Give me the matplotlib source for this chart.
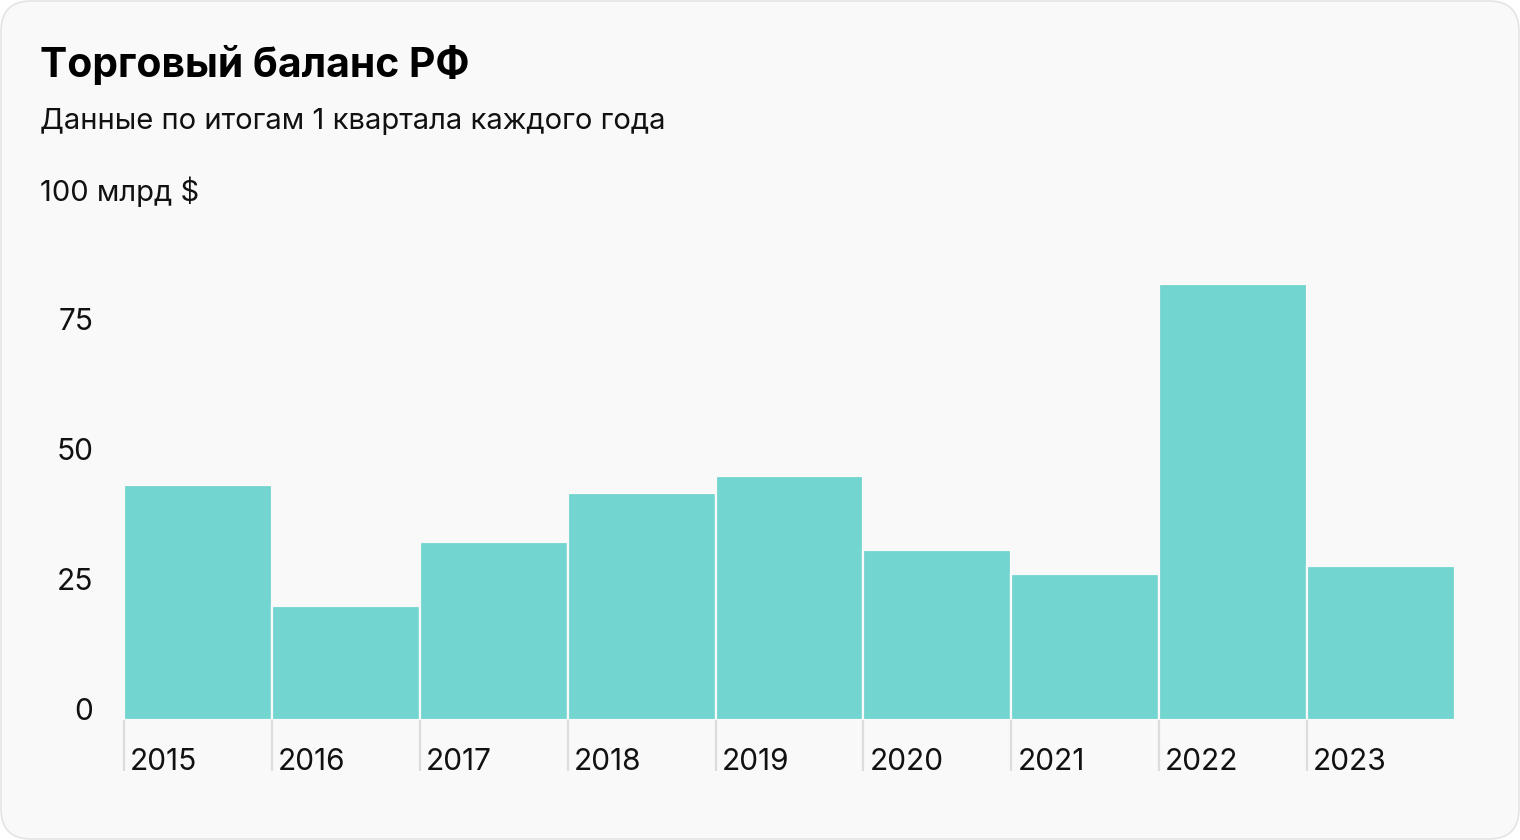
import matplotlib
matplotlib.use("Agg")
import matplotlib.pyplot as plt
from matplotlib.patches import FancyBboxPatch

years = ["2015", "2016", "2017", "2018", "2019", "2020", "2021", "2022", "2023"]
values = [45.1, 22.0, 34.3, 43.6, 47.0, 32.7, 28.1, 83.9, 29.7]
yticks = [0, 25, 50, 75]
title = "Торговый баланс РФ"
subtitle = "Данные по итогам 1 квартала каждого года"
unit_label = "100 млрд $"

plt.rcParams['font.family'] = ['Inter', 'DejaVu Sans']

W, H = 1520, 840
DPI = 100
fig = plt.figure(figsize=(W / DPI, H / DPI), dpi=DPI)
fig.patch.set_facecolor("white")

card = FancyBboxPatch((1 / DPI, 1 / DPI), (W - 2) / DPI, (H - 2) / DPI,
                      boxstyle="round,pad=0,rounding_size=0.3",
                      transform=fig.dpi_scale_trans, facecolor="#f9f9f9",
                      edgecolor="#e4e4e4", linewidth=1.2, zorder=-10)
fig.patches.append(card)

# axes: x from 124 to 1455 px, y: 0 at 719 px, 100 at 199 px (from top)
left, right = 124, 1455
base, top = 720, 200
ax = fig.add_axes([left / W, (H - base) / H, (right - left) / W, (base - top) / H])
ax.set_zorder(5)
ax.set_facecolor("none")
ax.set_xlim(0, len(years))
ax.set_ylim(0, 100)

xs = list(range(len(years)))
ax.bar(xs, values, width=1.0, align="edge", color="#73d5cf",
       edgecolor="#f9f9f9", linewidth=1.6, zorder=2)

for s in ax.spines.values():
    s.set_visible(False)
ax.set_yticks([])
ax.set_xticks(xs)
ax.set_xticklabels([])
ax.tick_params(axis="x", length=51 * 72 / DPI, width=1.6, color="#dddddd", direction="out")

for i, yr in enumerate(years):
    ax.annotate(yr, xy=(i, 0), xycoords=("data", "axes fraction"),
                xytext=(6 * 72 / DPI, -42 * 72 / DPI), textcoords="offset points",
                ha="left", va="center", fontsize=21.5, color="#111111",
                annotation_clip=False)

for v in yticks:
    ax.annotate(str(v), xy=(0, v), xycoords=("axes fraction", "data"),
                xytext=(-31 * 72 / DPI, 8 * 72 / DPI), textcoords="offset points",
                ha="right", va="center", fontsize=21.5, color="#111111",
                annotation_clip=False)

fig.text(40 / W, 1 - 192 / H, unit_label, ha="left", va="center", fontsize=21, color="#111111")
fig.text(40 / W, 1 - 65 / H, title, ha="left", va="center", fontsize=29.4, fontweight="bold", color="#000000")
fig.text(40 / W, 1 - 121.5 / H, subtitle, ha="left", va="center", fontsize=21, color="#111111")

fig.savefig("out.png", dpi=DPI, facecolor=fig.get_facecolor())
